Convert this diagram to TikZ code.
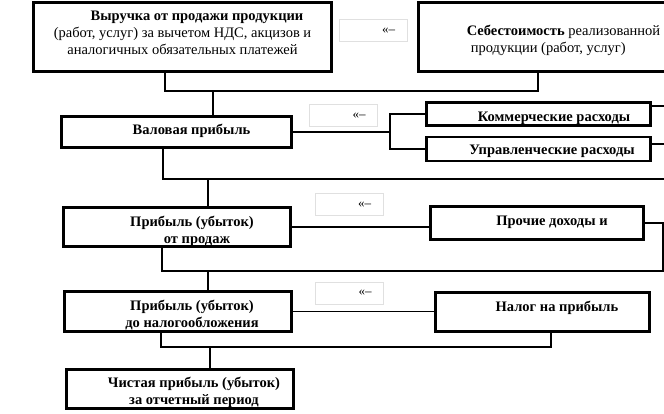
\documentclass[tikz,border=0pt]{standalone}
\usepackage{fontspec}
\setmainfont{Liberation Serif}
\begin{document}
\begin{tikzpicture}[x=1pt,y=-1pt,
    box/.style={draw, line width=2.6pt, inner sep=0pt},
    txt/.style={align=center, inner sep=0pt, font=\fontsize{14.5}{17}\selectfont\bfseries},
    hint/.style={draw=black!12, line width=0.6pt, inner xsep=12pt, inner ysep=0pt, text width=44pt, minimum height=22pt, align=right, font=\fontsize{13}{15}\selectfont},
    link/.style={line width=1.7pt}]
\useasboundingbox (0,0) rectangle (664,413);
\clip (0,0) rectangle (664,413);

% hints
\node[hint] (h1) at (373,30.5) {«–};
\node[hint] (h2) at (343.5,115.5) {«–};
\node[hint] (h3) at (349,204.5) {«–};
\node[hint] (h4) at (349.5,293) {«–};

% boxes
\node[box, minimum width=298pt, minimum height=69pt,
    label={[txt, yshift=3.7pt]center:{\kern29pt Выручка от продажи продукции\\\textmd{(работ, услуг) за вычетом НДС, акцизов и}\\\textmd{аналогичных обязательных платежей}}}] (rev) at (182.5,37) {};
\node[box, minimum width=300pt, minimum height=69pt,
    label={[txt, align=left, xshift=-5pt, yshift=-3.5pt]center:{Себестоимость \textmd{реализованной}\\\kern4pt\textmd{продукции (работ, услуг)}}}] (cost) at (568.5,37) {};
\node[box, minimum width=230pt, minimum height=31pt,
    label={[txt, xshift=15pt, yshift=1pt]center:Валовая прибыль}] (gross) at (176.5,132) {};
\node[box, minimum width=224pt, minimum height=23pt,
    label={[txt, xshift=15.5pt, yshift=-4pt]center:Коммерческие расходы}] (comm) at (538.5,114) {};
\node[box, minimum width=224pt, minimum height=24pt,
    label={[txt, xshift=13.5pt, yshift=-2pt]center:Управленческие расходы}] (adm) at (538.5,149) {};
\node[box, minimum width=227pt, minimum height=39pt,
    label={[txt, xshift=15pt, yshift=-4pt]center:{Прибыль (убыток)\\\kern10pt от продаж}}] (sales) at (177,227) {};
\node[box, minimum width=213pt, minimum height=33pt,
    label={[txt, xshift=15pt, yshift=1pt]center:Прочие доходы и}] (other) at (537,223) {};
\node[box, minimum width=227pt, minimum height=40pt,
    label={[txt, xshift=14pt, yshift=-3.5pt]center:{Прибыль (убыток)\\до налогообложения}}] (pretax) at (178,311.5) {};
\node[box, minimum width=214pt, minimum height=39pt,
    label={[txt, xshift=14.5pt, yshift=4pt]center:Налог на прибыль}] (tax) at (542.5,312) {};
\node[box, minimum width=227pt, minimum height=39pt,
    label={[txt, xshift=14pt, yshift=-3pt]center:{Чистая прибыль (убыток)\\за отчетный период}}] (net) at (180,389) {};

% connectors
\coordinate (j1) at (213,91);
\draw[link] ([xshift=-17.5pt]rev.south) |- (j1) -| ([xshift=-30.5pt]cost.south);
\draw[link] (j1) -- (j1 |- gross.north);

\coordinate (fork) at (390,132);
\draw[link] (gross.east) -- (fork);
\draw[link] (comm.west) -| (fork) |- (adm.west);
\draw[link] ([yshift=8pt]comm.east) -- ++(30,0);
\draw[link] ([yshift=5pt]adm.east) -- ++(30,0);

\coordinate (j2) at (208,179);
\coordinate (e2) at (700,179);
\draw[link] ([xshift=-13.5pt]gross.south) |- (e2);
\draw[link] (j2) -- (j2 |- sales.north);

\draw[link] (sales.east) -- (sales.east -| other.west);
\coordinate (j3) at (208,271);
\draw[link] (other.east) -- ++(18,0) |- (j3) -| ([xshift=-15pt]sales.south);
\draw[link] (j3) -- (j3 |- pretax.north);

\draw[link] (pretax.east) -- (pretax.east -| tax.west);
\coordinate (j4) at (210,347);
\draw[link] ([xshift=8.5pt]tax.south) |- (j4) -| ([xshift=-17pt]pretax.south);
\draw[link] (j4) -- (j4 |- net.north);

\end{tikzpicture}
\end{document}
